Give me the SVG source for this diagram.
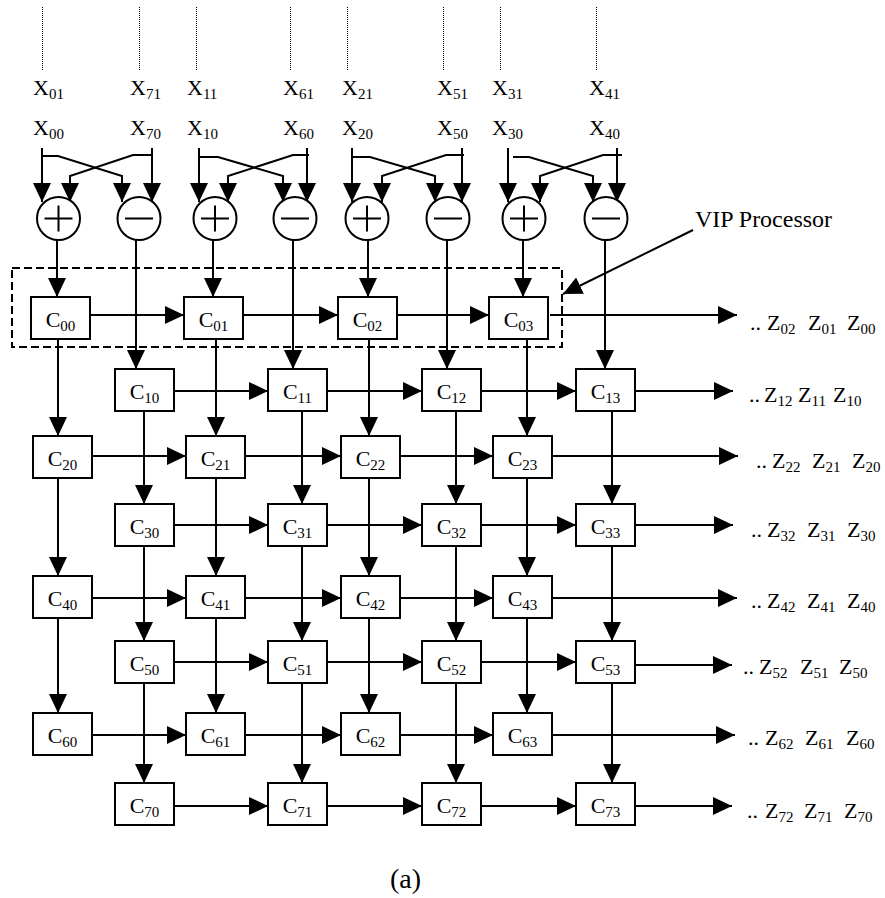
<svg xmlns="http://www.w3.org/2000/svg" width="885" height="898" viewBox="0 0 885 898">
<style>
.ln{stroke:#000;stroke-width:2;fill:none}
.a{marker-end:url(#ah)}
.dot{stroke:#000;stroke-width:1;stroke-dasharray:1,1;fill:none}
.dash{stroke:#000;stroke-width:2;stroke-dasharray:8,4;fill:none}
.box{fill:#fff;stroke:#000;stroke-width:2}
.op{fill:#fff;stroke:#000;stroke-width:2}
text{font-family:"Liberation Serif","Times New Roman",serif;font-size:22px;fill:#000}
.s{font-size:15px}
.c{text-anchor:middle}
</style>
<defs>
<marker id="ah" markerUnits="userSpaceOnUse" markerWidth="19" markerHeight="18" refX="19" refY="9" orient="auto" viewBox="0 0 19 18">
<path d="M0,0 L19,9 L0,18 Z" fill="#000"/>
</marker>
</defs>
<rect width="885" height="898" fill="#fff"/>

<g id="inputs">
<g class="dot">
<line x1="42.5" y1="7" x2="42.5" y2="70"/><line x1="139.5" y1="7" x2="139.5" y2="70"/>
<line x1="196.5" y1="7" x2="196.5" y2="70"/><line x1="290.5" y1="7" x2="290.5" y2="70"/>
<line x1="347.5" y1="7" x2="347.5" y2="70"/><line x1="443.5" y1="7" x2="443.5" y2="70"/>
<line x1="500.5" y1="7" x2="500.5" y2="70"/><line x1="596.5" y1="7" x2="596.5" y2="70"/>
</g>
<text x="33" y="95">X<tspan class="s" dy="4">01</tspan></text>
<text x="130" y="95">X<tspan class="s" dy="4">71</tspan></text>
<text x="187" y="95">X<tspan class="s" dy="4">11</tspan></text>
<text x="283" y="95">X<tspan class="s" dy="4">61</tspan></text>
<text x="342" y="95">X<tspan class="s" dy="4">21</tspan></text>
<text x="437" y="95">X<tspan class="s" dy="4">51</tspan></text>
<text x="492" y="95">X<tspan class="s" dy="4">31</tspan></text>
<text x="589" y="95">X<tspan class="s" dy="4">41</tspan></text>
<text x="33" y="135">X<tspan class="s" dy="4">00</tspan></text>
<text x="130" y="135">X<tspan class="s" dy="4">70</tspan></text>
<text x="187" y="135">X<tspan class="s" dy="4">10</tspan></text>
<text x="283" y="135">X<tspan class="s" dy="4">60</tspan></text>
<text x="342" y="135">X<tspan class="s" dy="4">20</tspan></text>
<text x="437" y="135">X<tspan class="s" dy="4">50</tspan></text>
<text x="492" y="135">X<tspan class="s" dy="4">30</tspan></text>
<text x="589" y="135">X<tspan class="s" dy="4">40</tspan></text>
</g>

<g id="connectors">
<g class="ln a">
<line x1="42" y1="148" x2="42" y2="202"/><line x1="152" y1="148" x2="152" y2="202"/>
<path d="M42,156 H58 L122,176 V202"/><path d="M153,155 H133 L70,176 V202"/>
<line x1="199" y1="148" x2="199" y2="202"/><line x1="307" y1="148" x2="307" y2="202"/>
<path d="M199,157 H218 L283,176 V202"/><path d="M309,155 H293 L228,176 V202"/>
<line x1="352" y1="148" x2="352" y2="202"/><line x1="462" y1="148" x2="462" y2="202"/>
<path d="M352,157 H370 L435,176 V202"/><path d="M464,155 H446 L382,176 V202"/>
<line x1="508" y1="148" x2="508" y2="202"/><line x1="617" y1="148" x2="617" y2="202"/>
<path d="M513,157 H529 L593,176 V202"/><path d="M622,155 H603 L540,176 V202"/>
</g>
<g class="ln a">
<line x1="57" y1="240" x2="57" y2="297"/><line x1="136" y1="240" x2="136" y2="369"/>
<line x1="213" y1="240" x2="213" y2="297"/><line x1="293" y1="240" x2="293" y2="369"/>
<line x1="368" y1="240" x2="368" y2="297"/><line x1="447" y1="240" x2="447" y2="369"/>
<line x1="523" y1="240" x2="523" y2="297"/><line x1="605" y1="240" x2="605" y2="369"/>
</g>
<g class="ln a">
<line x1="58" y1="339" x2="58" y2="436"/><line x1="58" y1="478" x2="58" y2="576"/><line x1="58" y1="618" x2="58" y2="713"/>
<line x1="216" y1="339" x2="216" y2="436"/><line x1="216" y1="478" x2="216" y2="576"/><line x1="216" y1="618" x2="216" y2="713"/>
<line x1="369" y1="339" x2="369" y2="436"/><line x1="369" y1="478" x2="369" y2="576"/><line x1="369" y1="618" x2="369" y2="713"/>
<line x1="527" y1="339" x2="527" y2="436"/><line x1="527" y1="478" x2="527" y2="576"/><line x1="527" y1="618" x2="527" y2="713"/>
<line x1="144" y1="411" x2="144" y2="504"/><line x1="144" y1="546" x2="144" y2="641"/><line x1="144" y1="683" x2="144" y2="783"/>
<line x1="302" y1="411" x2="302" y2="504"/><line x1="302" y1="546" x2="302" y2="641"/><line x1="302" y1="683" x2="302" y2="783"/>
<line x1="456" y1="411" x2="456" y2="504"/><line x1="456" y1="546" x2="456" y2="641"/><line x1="456" y1="683" x2="456" y2="783"/>
<line x1="612" y1="411" x2="612" y2="504"/><line x1="612" y1="546" x2="612" y2="641"/><line x1="612" y1="683" x2="612" y2="783"/>
</g>
<g class="ln a">
<line x1="90" y1="315" x2="184" y2="315"/><line x1="243" y1="315" x2="338" y2="315"/><line x1="397" y1="315" x2="489" y2="315"/><line x1="550" y1="315" x2="737" y2="315"/>
<line x1="174" y1="391" x2="268" y2="391"/><line x1="327" y1="391" x2="422" y2="391"/><line x1="481" y1="391" x2="576" y2="391"/><line x1="636" y1="391" x2="733" y2="391"/>
<line x1="92" y1="456" x2="186" y2="456"/><line x1="245" y1="456" x2="341" y2="456"/><line x1="400" y1="456" x2="493" y2="456"/><line x1="553" y1="456" x2="738" y2="456"/>
<line x1="174" y1="525" x2="268" y2="525"/><line x1="327" y1="525" x2="422" y2="525"/><line x1="481" y1="525" x2="576" y2="525"/><line x1="636" y1="525" x2="733" y2="525"/>
<line x1="92" y1="598" x2="186" y2="598"/><line x1="245" y1="598" x2="341" y2="598"/><line x1="400" y1="598" x2="493" y2="598"/><line x1="553" y1="598" x2="737" y2="598"/>
<line x1="174" y1="662" x2="268" y2="662"/><line x1="327" y1="662" x2="422" y2="662"/><line x1="481" y1="662" x2="576" y2="662"/><line x1="636" y1="665" x2="732" y2="665"/>
<line x1="92" y1="735" x2="186" y2="735"/><line x1="245" y1="735" x2="341" y2="735"/><line x1="400" y1="735" x2="493" y2="735"/><line x1="553" y1="735" x2="735" y2="735"/>
<line x1="174" y1="806" x2="268" y2="806"/><line x1="327" y1="806" x2="422" y2="806"/><line x1="481" y1="806" x2="576" y2="806"/><line x1="636" y1="806" x2="732" y2="806"/>
</g>
<line class="ln a" x1="693" y1="230" x2="563" y2="294"/>
</g>

<g id="adders">
<g id="add0"><circle class="op" cx="58.5" cy="218.5" r="21.5"/><path class="ln" d="M44.5,218.5 H72.5 M58.5,205.5 V231.5"/></g>
<g id="sub0"><circle class="op" cx="139" cy="218.5" r="21.5"/><path class="ln" d="M125,218.5 H153"/></g>
<g id="add1"><circle class="op" cx="215" cy="218.5" r="21.5"/><path class="ln" d="M201,218.5 H229 M215,205.5 V231.5"/></g>
<g id="sub1"><circle class="op" cx="295" cy="218.5" r="21.5"/><path class="ln" d="M281,218.5 H309"/></g>
<g id="add2"><circle class="op" cx="367" cy="218.5" r="21.5"/><path class="ln" d="M353,218.5 H381 M367,205.5 V231.5"/></g>
<g id="sub2"><circle class="op" cx="448" cy="218.5" r="21.5"/><path class="ln" d="M434,218.5 H462"/></g>
<g id="add3"><circle class="op" cx="524" cy="218.5" r="21.5"/><path class="ln" d="M510,218.5 H538 M524,205.5 V231.5"/></g>
<g id="sub3"><circle class="op" cx="606" cy="218.5" r="21.5"/><path class="ln" d="M592,218.5 H620"/></g>
</g>

<g id="vip">
<rect class="dash" x="12" y="268" width="550" height="79"/>
<text x="695" y="227" style="font-size:24px">VIP Processor</text>
</g>

<g id="cells">
<g id="c00"><rect class="box" x="31" y="297" width="59" height="42"/><text class="c" x="60.5" y="327">C<tspan class="s" dy="3.5">00</tspan></text></g>
<g id="c01"><rect class="box" x="184" y="297" width="59" height="42"/><text class="c" x="213.5" y="327">C<tspan class="s" dy="3.5">01</tspan></text></g>
<g id="c02"><rect class="box" x="338" y="297" width="59" height="42"/><text class="c" x="367.5" y="327">C<tspan class="s" dy="3.5">02</tspan></text></g>
<g id="c03"><rect class="box" x="489" y="297" width="59" height="42"/><text class="c" x="518.5" y="327">C<tspan class="s" dy="3.5">03</tspan></text></g>

<g id="c10"><rect class="box" x="115" y="369" width="59" height="42"/><text class="c" x="144.5" y="399">C<tspan class="s" dy="3.5">10</tspan></text></g>
<g id="c11"><rect class="box" x="268" y="369" width="59" height="42"/><text class="c" x="297.5" y="399">C<tspan class="s" dy="3.5">11</tspan></text></g>
<g id="c12"><rect class="box" x="422" y="369" width="59" height="42"/><text class="c" x="451.5" y="399">C<tspan class="s" dy="3.5">12</tspan></text></g>
<g id="c13"><rect class="box" x="576" y="369" width="59" height="42"/><text class="c" x="605.5" y="399">C<tspan class="s" dy="3.5">13</tspan></text></g>

<g id="c20"><rect class="box" x="33" y="436" width="59" height="42"/><text class="c" x="62.5" y="466">C<tspan class="s" dy="3.5">20</tspan></text></g>
<g id="c21"><rect class="box" x="186" y="436" width="59" height="42"/><text class="c" x="215.5" y="466">C<tspan class="s" dy="3.5">21</tspan></text></g>
<g id="c22"><rect class="box" x="341" y="436" width="59" height="42"/><text class="c" x="370.5" y="466">C<tspan class="s" dy="3.5">22</tspan></text></g>
<g id="c23"><rect class="box" x="493" y="436" width="59" height="42"/><text class="c" x="522.5" y="466">C<tspan class="s" dy="3.5">23</tspan></text></g>

<g id="c30"><rect class="box" x="115" y="504" width="59" height="42"/><text class="c" x="144.5" y="534">C<tspan class="s" dy="3.5">30</tspan></text></g>
<g id="c31"><rect class="box" x="268" y="504" width="59" height="42"/><text class="c" x="297.5" y="534">C<tspan class="s" dy="3.5">31</tspan></text></g>
<g id="c32"><rect class="box" x="422" y="504" width="59" height="42"/><text class="c" x="451.5" y="534">C<tspan class="s" dy="3.5">32</tspan></text></g>
<g id="c33"><rect class="box" x="576" y="504" width="59" height="42"/><text class="c" x="605.5" y="534">C<tspan class="s" dy="3.5">33</tspan></text></g>

<g id="c40"><rect class="box" x="33" y="576" width="59" height="42"/><text class="c" x="62.5" y="606">C<tspan class="s" dy="3.5">40</tspan></text></g>
<g id="c41"><rect class="box" x="186" y="576" width="59" height="42"/><text class="c" x="215.5" y="606">C<tspan class="s" dy="3.5">41</tspan></text></g>
<g id="c42"><rect class="box" x="341" y="576" width="59" height="42"/><text class="c" x="370.5" y="606">C<tspan class="s" dy="3.5">42</tspan></text></g>
<g id="c43"><rect class="box" x="493" y="576" width="59" height="42"/><text class="c" x="522.5" y="606">C<tspan class="s" dy="3.5">43</tspan></text></g>

<g id="c50"><rect class="box" x="115" y="641" width="59" height="42"/><text class="c" x="144.5" y="671">C<tspan class="s" dy="3.5">50</tspan></text></g>
<g id="c51"><rect class="box" x="268" y="641" width="59" height="42"/><text class="c" x="297.5" y="671">C<tspan class="s" dy="3.5">51</tspan></text></g>
<g id="c52"><rect class="box" x="422" y="641" width="59" height="42"/><text class="c" x="451.5" y="671">C<tspan class="s" dy="3.5">52</tspan></text></g>
<g id="c53"><rect class="box" x="576" y="641" width="59" height="42"/><text class="c" x="605.5" y="671">C<tspan class="s" dy="3.5">53</tspan></text></g>

<g id="c60"><rect class="box" x="33" y="713" width="59" height="42"/><text class="c" x="62.5" y="743">C<tspan class="s" dy="3.5">60</tspan></text></g>
<g id="c61"><rect class="box" x="186" y="713" width="59" height="42"/><text class="c" x="215.5" y="743">C<tspan class="s" dy="3.5">61</tspan></text></g>
<g id="c62"><rect class="box" x="341" y="713" width="59" height="42"/><text class="c" x="370.5" y="743">C<tspan class="s" dy="3.5">62</tspan></text></g>
<g id="c63"><rect class="box" x="493" y="713" width="59" height="42"/><text class="c" x="522.5" y="743">C<tspan class="s" dy="3.5">63</tspan></text></g>

<g id="c70"><rect class="box" x="115" y="783" width="59" height="42"/><text class="c" x="144.5" y="813">C<tspan class="s" dy="3.5">70</tspan></text></g>
<g id="c71"><rect class="box" x="268" y="783" width="59" height="42"/><text class="c" x="297.5" y="813">C<tspan class="s" dy="3.5">71</tspan></text></g>
<g id="c72"><rect class="box" x="422" y="783" width="59" height="42"/><text class="c" x="451.5" y="813">C<tspan class="s" dy="3.5">72</tspan></text></g>
<g id="c73"><rect class="box" x="576" y="783" width="59" height="42"/><text class="c" x="605.5" y="813">C<tspan class="s" dy="3.5">73</tspan></text></g>
</g>

<g id="outputs">
<text x="750" y="330">..</text><text x="767" y="330">Z<tspan class="s" dy="4">02</tspan></text><text x="808" y="330">Z<tspan class="s" dy="4">01</tspan></text><text x="847" y="330">Z<tspan class="s" dy="4">00</tspan></text>
<text x="749" y="402">..</text><text x="764" y="402">Z<tspan class="s" dy="4">12</tspan></text><text x="798" y="402">Z<tspan class="s" dy="4">11</tspan></text><text x="833" y="402">Z<tspan class="s" dy="4">10</tspan></text>
<text x="756" y="468">..</text><text x="772" y="468">Z<tspan class="s" dy="4">22</tspan></text><text x="812" y="468">Z<tspan class="s" dy="4">21</tspan></text><text x="852" y="468">Z<tspan class="s" dy="4">20</tspan></text>
<text x="751" y="537">..</text><text x="767" y="537">Z<tspan class="s" dy="4">32</tspan></text><text x="807" y="537">Z<tspan class="s" dy="4">31</tspan></text><text x="847" y="537">Z<tspan class="s" dy="4">30</tspan></text>
<text x="751" y="608">..</text><text x="767" y="608">Z<tspan class="s" dy="4">42</tspan></text><text x="807" y="608">Z<tspan class="s" dy="4">41</tspan></text><text x="847" y="608">Z<tspan class="s" dy="4">40</tspan></text>
<text x="743" y="674">..</text><text x="759" y="674">Z<tspan class="s" dy="4">52</tspan></text><text x="800" y="674">Z<tspan class="s" dy="4">51</tspan></text><text x="839" y="674">Z<tspan class="s" dy="4">50</tspan></text>
<text x="748" y="745">..</text><text x="765" y="745">Z<tspan class="s" dy="4">62</tspan></text><text x="805" y="745">Z<tspan class="s" dy="4">61</tspan></text><text x="846" y="745">Z<tspan class="s" dy="4">60</tspan></text>
<text x="747" y="818">..</text><text x="765" y="818">Z<tspan class="s" dy="4">72</tspan></text><text x="804" y="818">Z<tspan class="s" dy="4">71</tspan></text><text x="844" y="818">Z<tspan class="s" dy="4">70</tspan></text>
</g>

<text x="390" y="888" style="font-size:28px">(a)</text>
</svg>
